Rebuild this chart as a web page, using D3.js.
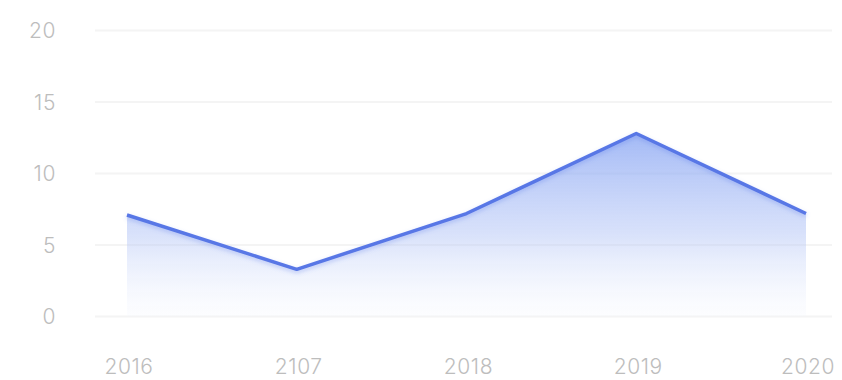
<!DOCTYPE html>
<html>
<head>
<meta charset="utf-8">
<script src="https://cdn.jsdelivr.net/npm/d3@7/dist/d3.min.js"></script>
<style>
  html, body { margin: 0; padding: 0; background: #ffffff; }
  svg { display: block; }
  .tick-label { font-family: Inter, "Open Sans", sans-serif; font-weight: 300; fill: #bdbdbd; letter-spacing: 0.6px; }
</style>
</head>
<body>
<svg id="chart" width="842" height="380"></svg>
<script>
// Yearly values
const years = ["2016", "2107", "2018", "2019", "2020"];
const values = [7.1, 3.3, 7.2, 12.8, 7.2];
const yTicks = [0, 5, 10, 15, 20];

const plot = { left: 95, right: 832, top: 30.5, bottom: 316.5 };
const pointSpan = [127, 806];

const svg = d3.select("#chart");

const x = d3.scalePoint().domain(years).range(pointSpan);
const y = d3.scaleLinear().domain([0, 20]).range([plot.bottom, plot.top]);

const defs = svg.append("defs");
const grad = defs.append("linearGradient")
  .attr("id", "areaFill")
  .attr("gradientUnits", "userSpaceOnUse")
  .attr("x1", 0).attr("x2", 0)
  .attr("y1", y(d3.max(values))).attr("y2", y(0));
grad.append("stop").attr("offset", "0%").attr("stop-color", "#7f9ef2").attr("stop-opacity", 0.72);
grad.append("stop").attr("offset", "55%").attr("stop-color", "#a9bdf5").attr("stop-opacity", 0.45);
grad.append("stop").attr("offset", "100%").attr("stop-color", "#eef2fd").attr("stop-opacity", 0.15);

const shadow = defs.append("filter").attr("id", "lineShadow")
  .attr("x", "-10%").attr("y", "-30%").attr("width", "120%").attr("height", "160%");
shadow.append("feDropShadow")
  .attr("dx", 0).attr("dy", 2).attr("stdDeviation", 2)
  .attr("flood-color", "#5a7ae8").attr("flood-opacity", 0.35);

const blur = defs.append("filter").attr("id", "soft");
blur.append("feGaussianBlur").attr("stdDeviation", 0.6);

// Horizontal grid lines
svg.append("g")
  .selectAll("line")
  .data(yTicks)
  .join("line")
  .attr("x1", plot.left).attr("x2", plot.right)
  .attr("y1", d => y(d)).attr("y2", d => y(d))
  .attr("stroke", "#f4f4f4")
  .attr("stroke-width", 2);

// Y axis labels
svg.append("g")
  .selectAll("text")
  .data(yTicks)
  .join("text")
  .attr("class", "tick-label")
  .attr("x", 56)
  .attr("y", d => y(d))
  .attr("dy", "0.36em")
  .attr("text-anchor", "end")
  .attr("font-size", 21)
  .text(d => d);

// X axis labels
svg.append("g")
  .selectAll("text")
  .data(years)
  .join("text")
  .attr("class", "tick-label")
  .attr("x", d => x(d) + 2)
  .attr("y", 366)
  .attr("dy", "0.36em")
  .attr("text-anchor", "middle")
  .attr("font-size", 21)
  .text(d => d);

const pts = years.map((yr, i) => ({ yr, v: values[i] }));

const area = d3.area()
  .x(d => x(d.yr))
  .y0(y(0))
  .y1(d => y(d.v));

const line = d3.line()
  .x(d => x(d.yr))
  .y(d => y(d.v));

svg.append("path")
  .datum(pts)
  .attr("d", area)
  .attr("fill", "url(#areaFill)")
  .attr("filter", "url(#soft)");

svg.append("path")
  .datum(pts)
  .attr("d", line)
  .attr("fill", "none")
  .attr("stroke", "#5877e6")
  .attr("stroke-width", 3.5)
  .attr("stroke-linejoin", "round")
  .attr("filter", "url(#lineShadow)");
</script>
</body>
</html>
